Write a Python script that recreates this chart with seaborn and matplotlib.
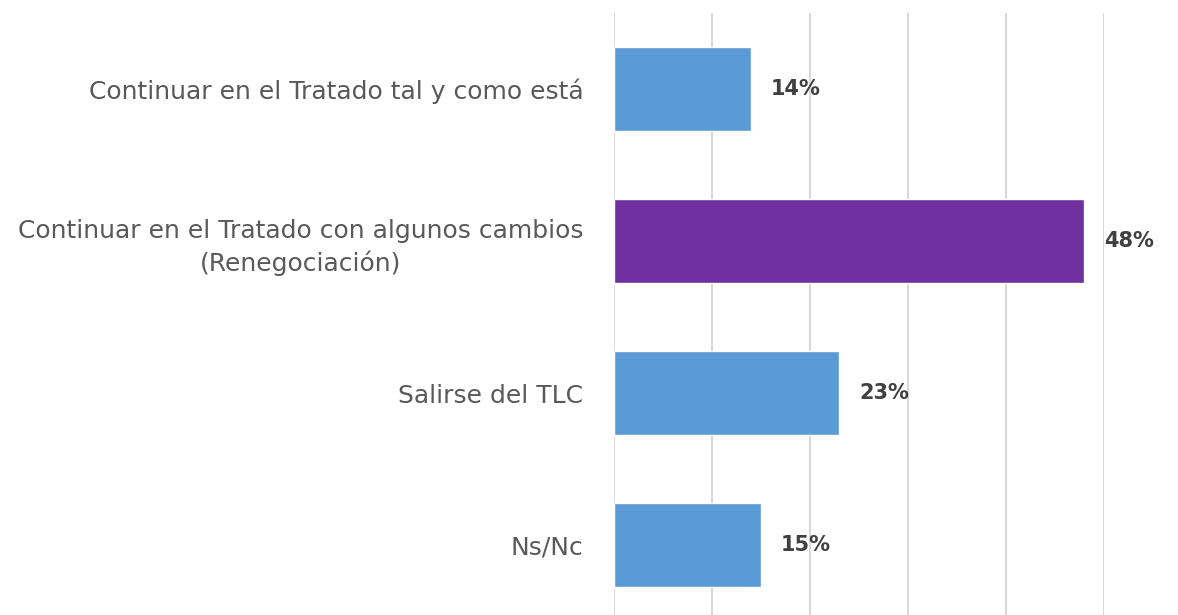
import matplotlib
matplotlib.use('Agg')
import matplotlib.pyplot as plt
import seaborn as sns
import pandas as pd

# Data
categories = ['Continuar en el Tratado tal y como está',
              'Continuar en el Tratado con algunos cambios\n(Renegociación)',
              'Salirse del TLC',
              'Ns/Nc']
values = [14, 48, 23, 15]
bar_colors = ['#5B9BD5', '#7030A0', '#5B9BD5', '#5B9BD5']

df = pd.DataFrame({'cat': categories, 'val': values})

sns.set_style('white')
plt.rcParams['font.family'] = ['DejaVu Sans']

fig = plt.figure(figsize=(11.78, 6.15), dpi=100)
ax = fig.add_axes([614 / 1178, 0, 490 / 1178, 1 - 13 / 615])

sns.barplot(data=df, x='val', y='cat', hue='cat', palette=bar_colors,
            legend=False, width=0.55, ax=ax, saturation=1)

ax.set_xlim(0, 50)
ax.set_ylim(3.46, -0.5)
ax.set_xticks([0, 10, 20, 30, 40, 50])
ax.xaxis.grid(True, color='#D9D9D9', linewidth=1.5)
ax.set_axisbelow(True)
ax.tick_params(axis='x', length=0, labelbottom=False)
ax.tick_params(axis='y', length=0, pad=22, labelsize=18, labelcolor='#595959')
for lbl in ax.get_yticklabels():
    lbl.set_multialignment('center')
    lbl.set_linespacing(1.4)
ax.set_xlabel('')
ax.set_ylabel('')
for s in ax.spines.values():
    s.set_visible(False)

for i, v in enumerate(values):
    ax.text(v + 2, i, f'{v}%', va='center', ha='left', fontsize=15,
            fontweight='bold', color='#404040')

fig.savefig('out.png', dpi=100)
